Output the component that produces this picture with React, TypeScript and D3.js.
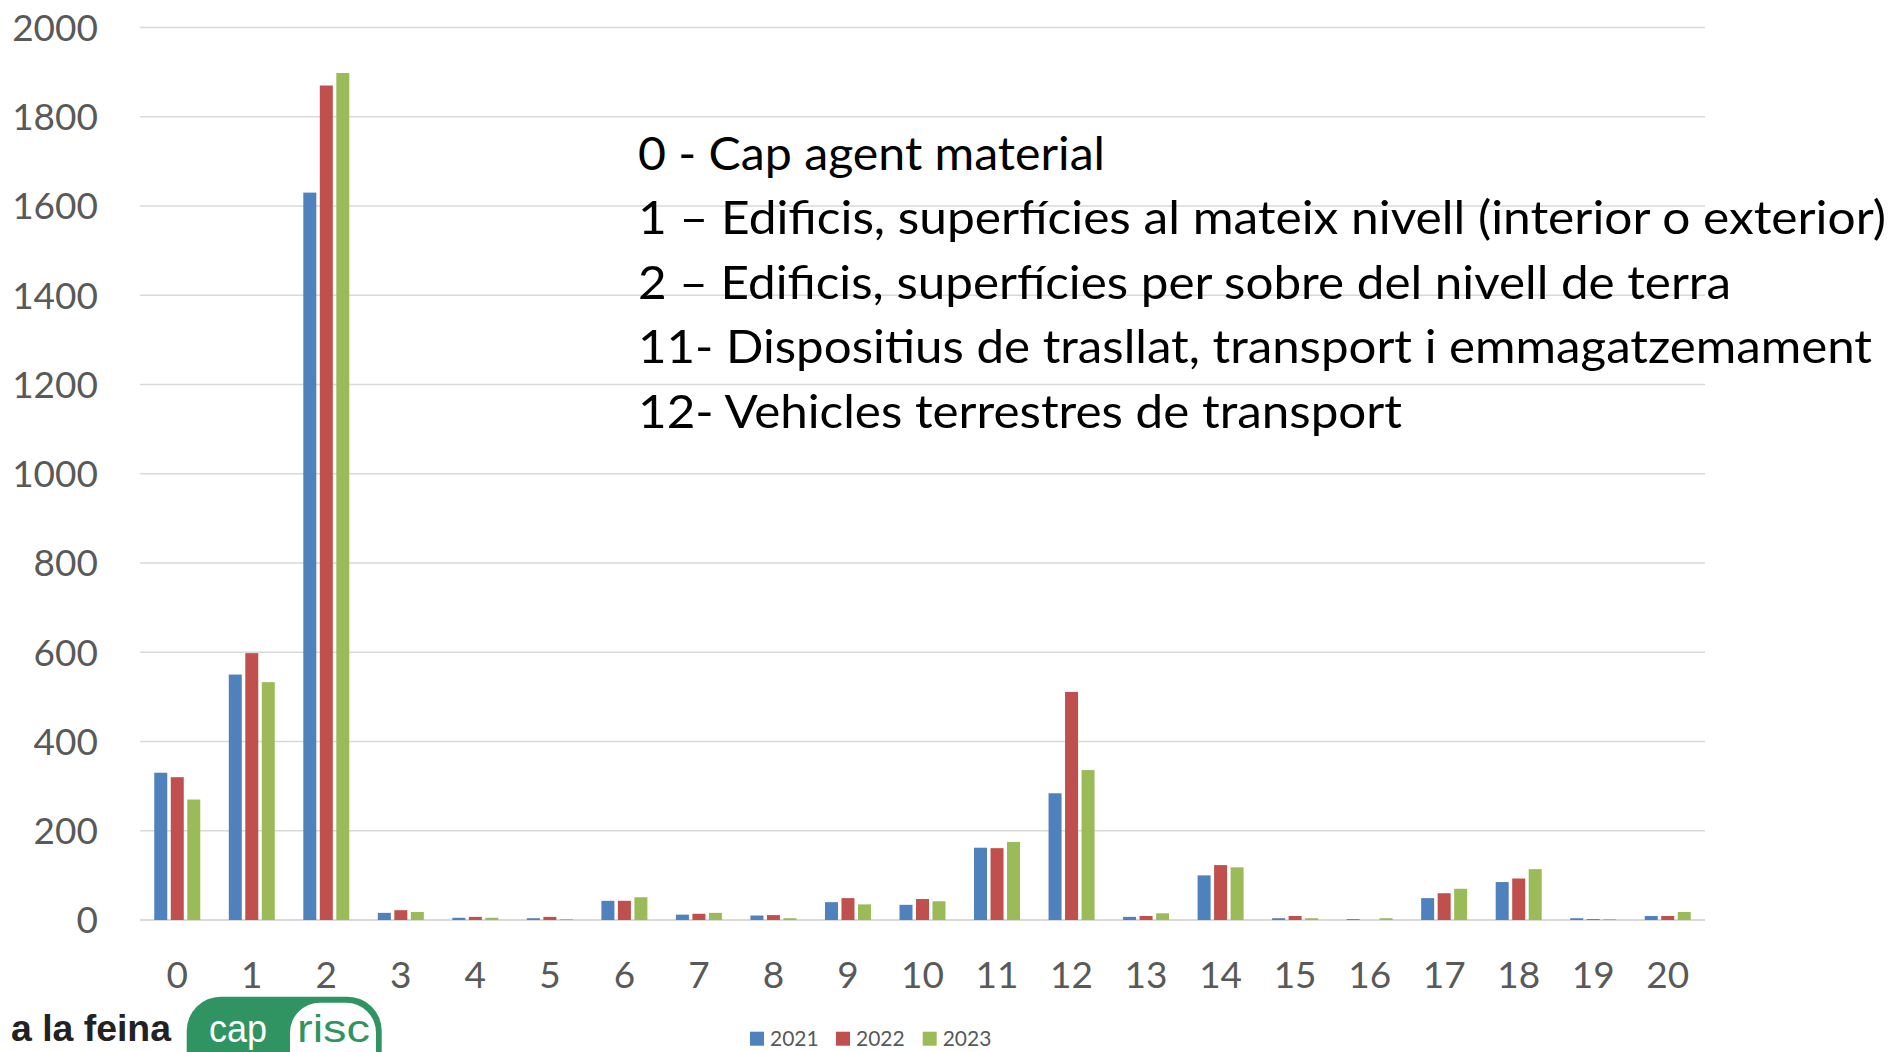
import React from "react";
import * as d3 from "d3";

const categories = ["0","1","2","3","4","5","6","7","8","9","10","11","12","13","14","15","16","17","18","19","20"];
const seriesNames = ["2021", "2022", "2023"];
const values2021 = [330, 550, 1630, 16, 5, 4, 43, 12, 10, 40, 34, 162, 284, 7, 100, 4, 2, 49, 85, 4, 9];
const values2022 = [320, 598, 1870, 22, 7, 7, 43, 14, 11, 49, 47, 161, 511, 9, 123, 9, 0, 60, 93, 2, 9];
const values2023 = [270, 533, 1898, 18, 5, 2, 51, 16, 4, 35, 42, 175, 336, 15, 118, 4, 4, 70, 114, 2, 18];
const yTicks = [0, 200, 400, 600, 800, 1000, 1200, 1400, 1600, 1800, 2000];
const colors = ["#4F81BD", "#C0504D", "#9BBB59"];
const noteLines = [
  "0 - Cap agent material",
  "1 \u2013 Edificis, superf\u00edcies al mateix nivell (interior o exterior)",
  "2 \u2013 Edificis, superf\u00edcies per sobre del nivell de terra",
  "11- Dispositius de trasllat, transport i emmagatzemament",
  "12- Vehicles terrestres de transport",
];
const noteWidths = [467, 1248, 1093, 1234, 764];

const W = 1893;
const H = 1052;

export default function App() {
  const seriesValues = [values2021, values2022, values2023];
  const x0 = d3.scaleBand<string>().domain(categories).range([140, 1705]).padding(0);
  const bw = x0.bandwidth();
  const groupW = 46;
  const x1 = d3
    .scaleBand<string>()
    .domain(seriesNames)
    .range([(bw - groupW) / 2, (bw + groupW) / 2])
    .paddingInner(0.212)
    .paddingOuter(0);
  const y = d3.scaleLinear().domain([0, 2000]).range([920, 27.5]);

  const tickFont = "Lato, 'Open Sans', sans-serif";

  return (
    <svg
      width={W}
      height={H}
      viewBox={`0 0 ${W} ${H}`}
      style={{ position: "absolute", left: 0, top: 0, display: "block", background: "#fff" }}
    >
      <rect x={0} y={0} width={W} height={H} fill="#fff" />
      {yTicks.map((t) => (
        <line
          key={"g" + t}
          x1={140}
          x2={1705}
          y1={y(t)}
          y2={y(t)}
          stroke="#d9d9d9"
          strokeWidth={t === 0 ? 2 : 1.5}
        />
      ))}
      {yTicks.map((t) => (
        <text
          key={"yt" + t}
          x={98}
          y={y(t) + 13.3}
          textAnchor="end"
          fontFamily={tickFont}
          fontSize={37}
          fill="#595959"
        >
          {t}
        </text>
      ))}
      {categories.map((c, ci) => (
        <g key={"c" + c} transform={`translate(${x0(c)},0)`}>
          {seriesNames.map((s, si) => {
            const v = seriesValues[si][ci];
            const top = y(v);
            return (
              <rect
                key={s}
                x={x1(s)}
                y={top}
                width={x1.bandwidth()}
                height={Math.max(0, y(0) - top)}
                fill={colors[si]}
              />
            );
          })}
        </g>
      ))}
      {categories.map((c) => (
        <text
          key={"xt" + c}
          x={(x0(c) as number) + bw / 2}
          y={988}
          textAnchor="middle"
          fontFamily={tickFont}
          fontSize={37}
          fill="#595959"
        >
          {c}
        </text>
      ))}
      {noteLines.map((l, i) => (
        <text
          key={"n" + i}
          x={638}
          y={169.5 + i * 64.5}
          fontFamily={tickFont}
          fontSize={47}
          fill="#000"
          textLength={noteWidths[i]}
          lengthAdjust="spacingAndGlyphs"
        >
          {l}
        </text>
      ))}
      {seriesNames.map((s, i) => {
        const lx = [750, 836, 922.7][i];
        return (
          <g key={"lg" + s}>
            <rect x={lx} y={1031.7} width={14} height={14} fill={colors[i]} />
            <text x={lx + 20} y={1046} fontFamily={tickFont} fontSize={21} fill="#595959">
              {s}
            </text>
          </g>
        );
      })}
      <g>
        <text
          x={11}
          y={1040.5}
          fontFamily="'Liberation Sans', Arial, sans-serif"
          fontWeight="bold"
          fontSize={37}
          fill="#222"
          textLength={160}
          lengthAdjust="spacingAndGlyphs"
        >
          a la feina
        </text>
        <rect x={186.7} y={996.7} width={195} height={90} rx={34} ry={34} fill="#2f9461" />
        <rect x={290} y={1002.7} width={86} height={80} rx={30} ry={30} fill="#fff" />
        <text
          x={209}
          y={1041.5}
          fontFamily="'Liberation Sans', Arial, sans-serif"
          fontSize={38}
          fill="#fff"
          textLength={58}
          lengthAdjust="spacingAndGlyphs"
        >
          cap
        </text>
        <text
          x={297}
          y={1041.5}
          fontFamily="'Liberation Sans', Arial, sans-serif"
          fontSize={38}
          fill="#2f9461"
          textLength={73}
          lengthAdjust="spacingAndGlyphs"
        >
          risc
        </text>
      </g>
    </svg>
  );
}
